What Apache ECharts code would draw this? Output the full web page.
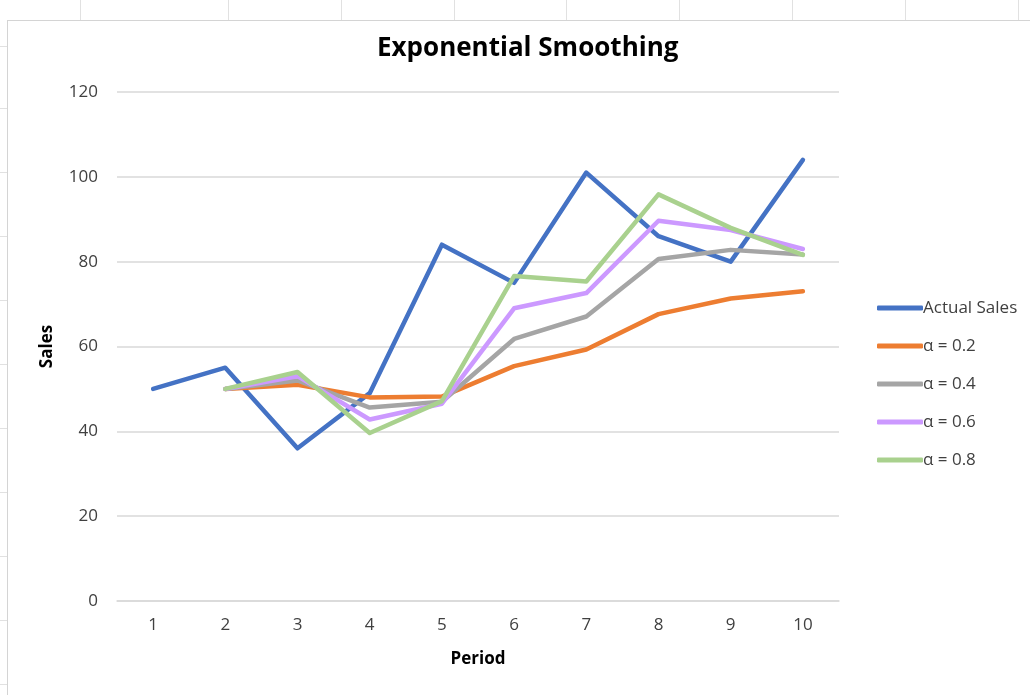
<!DOCTYPE html>
<html>
<head>
<meta charset="utf-8">
<script src="https://cdn.jsdelivr.net/npm/echarts@6/dist/echarts.min.js"></script>
<style>
  html, body { margin: 0; padding: 0; background: #fff; }
  .vl { position: absolute; top: 0; width: 1px; height: 20px; background: #e1e1e1; }
  .hl { position: absolute; left: 0; width: 7px; height: 1px; background: #e1e1e1; }
  #frame {
    position: absolute; left: 7px; top: 20px; width: 1023px; height: 675px;
    background: #fff; border-left: 1px solid #d4d4d4; border-top: 1px solid #d4d4d4;
  }
  #eChart { position: absolute; left: 0; top: 0; width: 1030px; height: 695px; }
</style>
</head>
<body>
<div id="frame"></div>
<div id="eChart"></div>
<script>
// chart data
const periods = ["1", "2", "3", "4", "5", "6", "7", "8", "9", "10"];
const actualSales = [50, 55, 36, 49, 84, 75, 101, 86, 80, 104];
const alpha02 = [null, 50, 51, 48, 48.2, 55.36, 59.29, 67.63, 71.3, 73.04];
const alpha04 = [null, 50, 52, 45.6, 46.96, 61.78, 67.07, 80.64, 82.78, 81.67];
const alpha06 = [null, 50, 53, 42.8, 46.52, 69.01, 72.6, 89.64, 87.46, 82.98];
const alpha08 = [null, 50, 54, 39.6, 47.12, 76.62, 75.32, 95.86, 87.97, 81.59];
const yTicks = [0, 20, 40, 60, 80, 100, 120];

// spreadsheet cell borders peeking out around the chart
[80, 228, 341, 454, 566, 679, 792, 905, 1018].forEach((x) => {
  const d = document.createElement("div");
  d.className = "vl";
  d.style.left = x + "px";
  document.body.insertBefore(d, document.body.firstChild);
});
[46, 108, 172, 236, 300, 364, 428, 492, 556, 620, 684].forEach((y) => {
  const d = document.createElement("div");
  d.className = "hl";
  d.style.top = y + "px";
  document.body.insertBefore(d, document.body.firstChild);
});

const font = "'Open Sans', sans-serif";

function lineSeries(name, data, color) {
  return {
    name: name,
    type: "line",
    data: data,
    showSymbol: false,
    symbol: "none",
    itemStyle: { color: color },
    lineStyle: { color: color, width: 4.5, cap: "round", join: "round" },
    emphasis: { disabled: true },
  };
}

const myChart = echarts.init(document.getElementById("eChart"), null, {
  renderer: "canvas",
});

myChart.setOption({
  backgroundColor: "transparent",
  animation: false,
  title: {
    text: "Exponential Smoothing",
    left: 372,
    top: 31,
    textStyle: { fontFamily: font, fontSize: 26, fontWeight: "bold", color: "#000" },
  },
  grid: { left: 117, right: 191, top: 92, bottom: 94 },
  legend: {
    orient: "vertical",
    left: 872,
    top: 294,
    itemWidth: 46,
    itemHeight: 5,
    itemGap: 20,
    icon: "roundRect",
    textStyle: {
      fontFamily: font, fontSize: 17, color: "#404040", lineHeight: 18,
      padding: [0, 0, 0, -5],
    },
  },
  xAxis: {
    type: "category",
    data: periods,
    boundaryGap: true,
    name: "Period",
    nameLocation: "middle",
    nameGap: 50,
    nameTextStyle: { fontFamily: font, fontSize: 17, fontWeight: "bold", color: "#000" },
    axisLine: { lineStyle: { color: "#d9d9d9", width: 1.5 } },
    axisTick: { show: false },
    axisLabel: { fontFamily: font, fontSize: 17, color: "#404040", margin: 16 },
  },
  yAxis: {
    type: "value",
    min: yTicks[0],
    max: yTicks[yTicks.length - 1],
    interval: 20,
    name: "Sales",
    nameLocation: "middle",
    nameGap: 61,
    nameTextStyle: { fontFamily: font, fontSize: 17, fontWeight: "bold", color: "#000" },
    axisLine: { show: false },
    axisTick: { show: false },
    axisLabel: { fontFamily: font, fontSize: 17, color: "#404040", margin: 19 },
    splitLine: { lineStyle: { color: "#d9d9d9", width: 1.5 } },
  },
  series: [
    lineSeries("Actual Sales", actualSales, "#4472C4"),
    lineSeries("α = 0.2", alpha02, "#ED7D31"),
    lineSeries("α = 0.4", alpha04, "#A5A5A5"),
    lineSeries("α = 0.6", alpha06, "#CC99FF"),
    lineSeries("α = 0.8", alpha08, "#A9D18E"),
  ],
});
</script>
</body>
</html>
